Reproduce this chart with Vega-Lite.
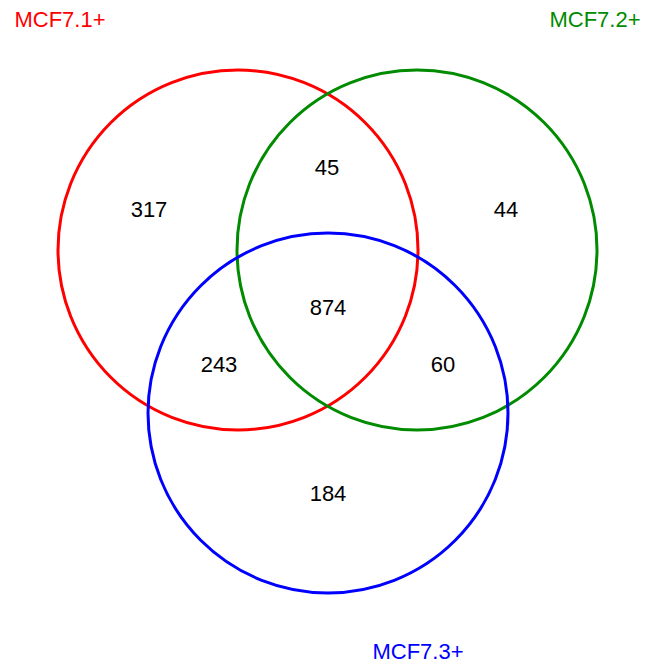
{
  "$schema": "https://vega.github.io/schema/vega-lite/v6.json",
  "width": 647,
  "height": 667,
  "autosize": {"type": "fit", "contains": "padding"},
  "padding": 0,
  "background": "white",
  "config": {"view": {"stroke": null}},
  "datasets": {
    "sets": [
      {"set": "MCF7.1+", "cx": 238, "cy": 250, "lx": 60, "ly": 20},
      {"set": "MCF7.2+", "cx": 417, "cy": 250, "lx": 595, "ly": 20},
      {"set": "MCF7.3+", "cx": 328, "cy": 413, "lx": 418, "ly": 652}
    ],
    "counts": [
      {"region": "1 only", "count": 317, "x": 149, "y": 210},
      {"region": "1&2", "count": 45, "x": 327, "y": 168},
      {"region": "2 only", "count": 44, "x": 506, "y": 210},
      {"region": "1&2&3", "count": 874, "x": 328, "y": 308},
      {"region": "1&3", "count": 243, "x": 219, "y": 365},
      {"region": "2&3", "count": 60, "x": 443, "y": 365},
      {"region": "3 only", "count": 184, "x": 328, "y": 494}
    ]
  },
  "layer": [
    {
      "data": {"name": "sets"},
      "mark": {"type": "point", "shape": "circle", "filled": false, "size": 129600, "strokeWidth": 3, "opacity": 1},
      "encoding": {
        "x": {"field": "cx", "type": "quantitative", "scale": {"domain": [0, 647]}, "axis": null},
        "y": {"field": "cy", "type": "quantitative", "scale": {"domain": [0, 667], "reverse": true}, "axis": null},
        "color": {"field": "set", "type": "nominal", "scale": {"domain": ["MCF7.1+", "MCF7.2+", "MCF7.3+"], "range": ["#ff0000", "#008b00", "#0000ff"]}, "legend": null}
      }
    },
    {
      "data": {"name": "sets"},
      "mark": {"type": "text", "font": "Liberation Sans", "fontSize": 22, "align": "center", "baseline": "middle"},
      "encoding": {
        "x": {"field": "lx", "type": "quantitative", "scale": {"domain": [0, 647]}, "axis": null},
        "y": {"field": "ly", "type": "quantitative", "scale": {"domain": [0, 667], "reverse": true}, "axis": null},
        "text": {"field": "set"},
        "color": {"field": "set", "type": "nominal", "legend": null}
      }
    },
    {
      "data": {"name": "counts"},
      "mark": {"type": "text", "font": "Liberation Sans", "fontSize": 22, "align": "center", "baseline": "middle", "color": "black"},
      "encoding": {
        "x": {"field": "x", "type": "quantitative", "scale": {"domain": [0, 647]}, "axis": null},
        "y": {"field": "y", "type": "quantitative", "scale": {"domain": [0, 667], "reverse": true}, "axis": null},
        "text": {"field": "count", "type": "quantitative"}
      }
    }
  ]
}
